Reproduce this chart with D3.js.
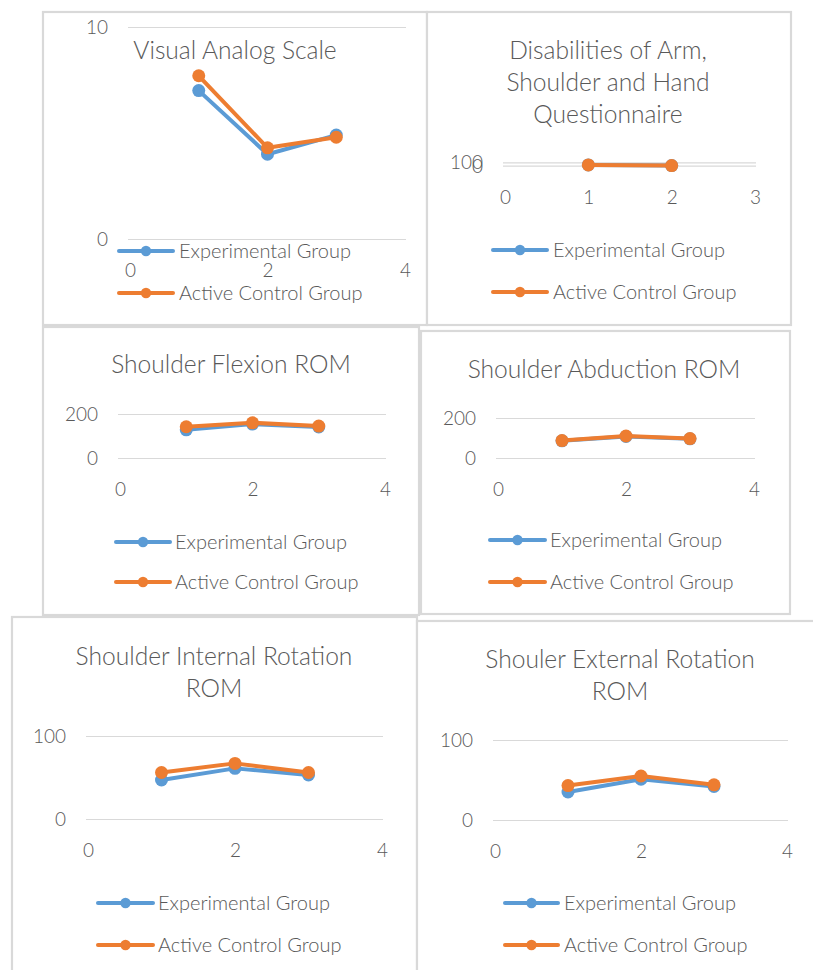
<!DOCTYPE html>
<html>
<head>
<meta charset="utf-8">
<script src="https://cdn.jsdelivr.net/npm/d3@7"></script>
<style>
  html, body { margin: 0; padding: 0; background: #fff; }
  svg { display: block; }
  text { font-family: Lato, "Open Sans", sans-serif; font-weight: 300; fill: #595959; }
</style>
</head>
<body>
<svg id="chart" width="813" height="970"></svg>
<script>
// ---------- DATA ----------
const seriesNames = ["Experimental Group", "Active Control Group"];
const seriesColors = ["#5b9bd5", "#ed7d31"];

const timePoints = [1, 2, 3];
const timePointsDash = [1, 2];

const vasTitle = ["Visual Analog Scale"];
const vasExperimental = [7.0, 4.0, 4.9];
const vasActive = [7.7, 4.3, 4.8];
const vasYTicks = [0, 10];
const vasXTicks = [0, 2, 4];

const dashTitle = ["Disabilities of Arm,", "Shoulder and Hand", "Questionnaire"];
const dashExperimental = [22, 4];
const dashActive = [23, 3];
const dashYTicks = [0, 100];
const dashXTicks = [0, 1, 2, 3];

const flexTitle = ["Shoulder Flexion ROM"];
const flexExperimental = [128, 154, 141];
const flexActive = [142, 160, 145];
const flexYTicks = [0, 200];
const flexXTicks = [0, 2, 4];

const abdTitle = ["Shoulder Abduction ROM"];
const abdExperimental = [86, 108, 96];
const abdActive = [87, 110, 97];
const abdYTicks = [0, 200];
const abdXTicks = [0, 2, 4];

const irTitle = ["Shoulder Internal Rotation", "ROM"];
const irExperimental = [47, 61, 53];
const irActive = [56, 67, 56];
const irYTicks = [0, 100];
const irXTicks = [0, 2, 4];

const erTitle = ["Shouler External Rotation", "ROM"];
const erExperimental = [35, 51, 42];
const erActive = [43, 55, 44];
const erYTicks = [0, 100];
const erXTicks = [0, 2, 4];

// ---------- LAYOUT ----------
const panels = [
  { title: vasTitle, x: timePoints, s: [vasExperimental, vasActive], yTicks: vasYTicks, xTicks: vasXTicks,
    box: [43, 12, 427, 325], xr: [130, 405], yr: [239, 27], titleX: 235, titleY: 59,
    leg: { x0: 119, x1: 173, tx: 179, y: [251, 293] } },
  { title: dashTitle, x: timePointsDash, s: [dashExperimental, dashActive], yTicks: dashYTicks, xTicks: dashXTicks,
    box: [427, 12, 791, 325], xr: [505, 755], yr: [165.7, 162.3], titleX: 608, titleY: 59,
    leg: { x0: 493, x1: 547, tx: 553, y: [250, 292] } },
  { title: flexTitle, x: timePoints, s: [flexExperimental, flexActive], yTicks: flexYTicks, xTicks: flexXTicks,
    box: [43, 327, 419, 615], xr: [120, 385], yr: [458, 414], titleX: 231, titleY: 373,
    leg: { x0: 116, x1: 170, tx: 175, y: [542, 582] } },
  { title: abdTitle, x: timePoints, s: [abdExperimental, abdActive], yTicks: abdYTicks, xTicks: abdXTicks,
    box: [421, 331, 790, 614], xr: [498, 754], yr: [458, 418], titleX: 604, titleY: 378,
    leg: { x0: 490, x1: 545, tx: 550, y: [540, 582] } },
  { title: irTitle, x: timePoints, s: [irExperimental, irActive], yTicks: irYTicks, xTicks: irXTicks,
    box: [12, 617, 417, 985], xr: [88, 382], yr: [819, 736], titleX: 214, titleY: 665,
    leg: { x0: 98, x1: 153, tx: 158, y: [903, 945] } },
  { title: erTitle, x: timePoints, s: [erExperimental, erActive], yTicks: erYTicks, xTicks: erXTicks,
    box: [417, 621, 830, 985], xr: [495, 787], yr: [820, 740], titleX: 620, titleY: 668,
    leg: { x0: 505, x1: 558, tx: 564, y: [903, 945] } }
];

const svg = d3.select("#chart");
const titleSize = 24.6, tickSize = 19, legSize = 20, lineGap = 32;

panels.forEach(p => {
  const g = svg.append("g");
  const [bx0, by0, bx1, by1] = p.box;
  g.append("rect")
    .attr("x", bx0).attr("y", by0).attr("width", bx1 - bx0).attr("height", by1 - by0)
    .attr("fill", "#fff").attr("stroke", "#d9d9d9").attr("stroke-width", 2.2);

  const xDom = d3.extent(p.xTicks), yDom = d3.extent(p.yTicks);
  const x = d3.scaleLinear().domain(xDom).range(p.xr);
  const y = d3.scaleLinear().domain(yDom).range(p.yr);

  // y axis with gridlines
  const yAxis = g.append("g").attr("transform", `translate(${p.xr[0] - 2},0)`)
    .call(d3.axisLeft(y).tickValues(p.yTicks).tickSize(-(p.xr[1] - p.xr[0] + 3)).tickPadding(20).tickFormat(d3.format("d")));
  yAxis.select(".domain").remove();
  yAxis.selectAll(".tick line").attr("stroke", "#d9d9d9").attr("stroke-width", 1.2);
  yAxis.selectAll(".tick text").attr("font-size", tickSize).attr("fill", "#595959")
    .style("font-family", "Lato, sans-serif").style("font-weight", 300).attr("dy", "0.34em");

  // x axis (labels only)
  const xAxis = g.append("g").attr("transform", `translate(0,${p.yr[0]})`)
    .call(d3.axisBottom(x).tickValues(p.xTicks).tickSize(0).tickPadding(25).tickFormat(d3.format("d")));
  xAxis.select(".domain").remove();
  xAxis.selectAll(".tick text").attr("font-size", tickSize).attr("fill", "#595959")
    .style("font-family", "Lato, sans-serif").style("font-weight", 300);

  // series
  const line = d3.line().x(d => x(d[0])).y(d => y(d[1]));
  p.s.forEach((vals, i) => {
    const pts = p.x.map((xv, j) => [xv, vals[j]]);
    g.append("path").datum(pts).attr("d", line)
      .attr("fill", "none").attr("stroke", seriesColors[i]).attr("stroke-width", 4)
      .attr("stroke-linejoin", "round");
    g.selectAll(null).data(pts).enter().append("circle")
      .attr("cx", d => x(d[0])).attr("cy", d => y(d[1])).attr("r", 6.5)
      .attr("fill", seriesColors[i]);
  });

  // title
  const t = g.append("text").attr("text-anchor", "middle").attr("font-size", titleSize);
  p.title.forEach((ln, k) => {
    t.append("tspan").attr("x", p.titleX).attr("y", p.titleY + k * lineGap).text(ln);
  });

  // legend
  seriesNames.forEach((nm, i) => {
    const ly = p.leg.y[i];
    g.append("line").attr("x1", p.leg.x0).attr("x2", p.leg.x1).attr("y1", ly).attr("y2", ly)
      .attr("stroke", seriesColors[i]).attr("stroke-width", 4).attr("stroke-linecap", "round");
    g.append("circle").attr("cx", (p.leg.x0 + p.leg.x1) / 2).attr("cy", ly).attr("r", 5.2)
      .attr("fill", seriesColors[i]);
    g.append("text").attr("x", p.leg.tx).attr("y", ly).attr("dy", "0.35em")
      .attr("font-size", legSize).text(nm);
  });
});
</script>
</body>
</html>
